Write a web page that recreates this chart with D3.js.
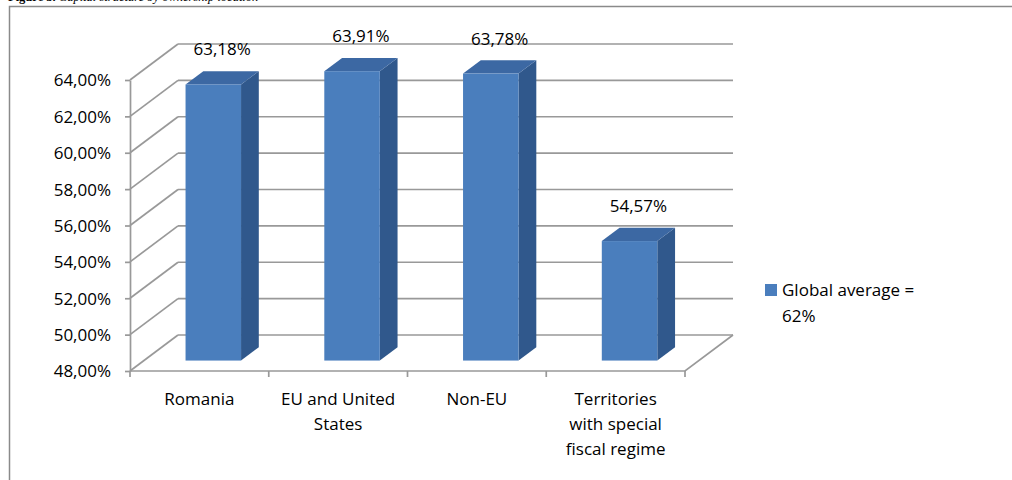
<!DOCTYPE html>
<html>
<head>
<meta charset="utf-8">
<script src="https://cdn.jsdelivr.net/npm/d3@7"></script>
<style>
  html, body { margin: 0; padding: 0; background: #fff; }
  svg { display: block; }
</style>
</head>
<body>
<svg id="chart" width="1012" height="480"></svg>
<script>
// ---- data ----
const categories = ["Romania", "EU and United States", "Non-EU", "Territories with special fiscal regime"];
const categoryLines = [["Romania"], ["EU and United", "States"], ["Non-EU"], ["Territories", "with special", "fiscal regime"]];
const values = [63.18, 63.91, 63.78, 54.57];
const valueLabels = ["63,18%", "63,91%", "63,78%", "54,57%"];
const yTicks = [48, 50, 52, 54, 56, 58, 60, 62, 64];
const seriesName = ["Global average =", "62%"];
const titleBold = "Figure 3.";
const titleItalic = " Capital structure by ownership location";

// ---- layout ----
const svg = d3.select("#chart");
const font = "'Open Sans', sans-serif";
const fs = 17;
const gridColor = "#999999";
const depthX = 48, depthY = -36;     // 3D depth offset of the back wall
const barD0 = 0.29, barD1 = 0.66;    // bar front/back depth fraction

const x = d3.scaleBand().domain(categories).range([130, 685]).paddingInner(0).paddingOuter(0);
const y = d3.scaleLinear().domain([48, 64]).range([371, 80]);
const off = d => [depthX * d, depthY * d];

// frame + title
svg.append("path").attr("d", "M9.5,480 L9.5,6.5 L1012,6.5")
  .attr("fill", "none").attr("stroke", "#8a8a8a").attr("stroke-width", 1.5);
const title = svg.append("text").attr("x", 8).attr("y", 1)
  .attr("font-family", "'Liberation Serif', serif").attr("font-size", 12.5).attr("fill", "#000");
title.append("tspan").attr("font-weight", "bold").text(titleBold);
title.append("tspan").attr("font-style", "italic").text(titleItalic);

const g = svg.append("g");
const [bx, by] = off(1);
const x0 = x.range()[0], x1 = x.range()[1];

// back wall gridlines + side wall diagonals
yTicks.forEach(t => {
  g.append("line").attr("x1", x0 + bx).attr("x2", x1 + bx).attr("y1", y(t) + by).attr("y2", y(t) + by)
    .attr("stroke", gridColor).attr("stroke-width", 1.7);
  g.append("line").attr("x1", x0).attr("x2", x0 + bx).attr("y1", y(t)).attr("y2", y(t) + by)
    .attr("stroke", gridColor).attr("stroke-width", 1.7);
});
// floor
g.append("path")
  .attr("d", `M${x0},${y(48)} L${x1},${y(48)} L${x1 + bx},${y(48) + by}`)
  .attr("fill", "none").attr("stroke", gridColor).attr("stroke-width", 1.7);
// category ticks on floor front edge
d3.range(categories.length + 1).forEach(i => {
  const xx = x0 + i * x.step();
  g.append("line").attr("x1", xx).attr("x2", xx).attr("y1", y(48)).attr("y2", y(48) + 6)
    .attr("stroke", gridColor).attr("stroke-width", 1.7);
});

// y axis (front)
const yAxis = d3.axisLeft(y).tickValues(yTicks).tickSize(5).tickSizeOuter(0).tickPadding(14)
  .tickFormat(d => d3.format(".2f")(d).replace(".", ",") + "%");
const ya = g.append("g").attr("transform", `translate(${x0},0)`).call(yAxis);
ya.select(".domain").attr("stroke", gridColor).attr("stroke-width", 1.7);
ya.selectAll(".tick line").attr("stroke", gridColor).attr("stroke-width", 1.7);
ya.selectAll(".tick text").attr("font-family", font).attr("font-size", fs).attr("fill", "#000").attr("dy", "0.35em");

// bars
const cFront = "#4a7ebd", cSide = "#30588c", cTop = "#3c68a3";
categories.forEach((c, i) => {
  const v = values[i];
  const bw = x.bandwidth() * 0.4;
  const [fx, fy] = off(barD0);
  const [kx, ky] = off(barD1);
  const left = x(c) + (x.bandwidth() - bw) / 2;
  const L = left + fx, R = left + bw + fx;
  const T = y(v) + fy, B = y(48) + fy;
  const dx = kx - fx, dy = ky - fy;
  g.append("path").attr("d", `M${R},${T} L${R + dx},${T + dy} L${R + dx},${B + dy} L${R},${B} Z`).attr("fill", cSide);
  g.append("path").attr("d", `M${L},${T} L${L + dx},${T + dy} L${R + dx},${T + dy} L${R},${T} Z`).attr("fill", cTop);
  g.append("rect").attr("x", L).attr("y", T).attr("width", bw).attr("height", B - T).attr("fill", cFront);
  g.append("text").attr("x", (L + R) / 2 + dx / 2).attr("y", T - 29)
    .attr("text-anchor", "middle").attr("font-family", font).attr("font-size", fs).attr("fill", "#000")
    .text(valueLabels[i]);
});

// category labels
categories.forEach((c, i) => {
  const t = g.append("text").attr("x", x(c) + x.bandwidth() / 2).attr("y", 405)
    .attr("text-anchor", "middle").attr("font-family", font).attr("font-size", fs).attr("fill", "#000");
  categoryLines[i].forEach((ln, j) => {
    t.append("tspan").attr("x", x(c) + x.bandwidth() / 2).attr("dy", j === 0 ? 0 : 25).text(ln);
  });
});

// legend
const lg = svg.append("g").attr("transform", "translate(765,284)");
lg.append("rect").attr("width", 12).attr("height", 12).attr("fill", cFront);
const lt = lg.append("text").attr("x", 17).attr("y", 12).attr("font-family", font).attr("font-size", fs).attr("fill", "#000");
seriesName.forEach((ln, j) => lt.append("tspan").attr("x", 17).attr("dy", j === 0 ? 0 : 26).text(ln));
</script>
</body>
</html>
